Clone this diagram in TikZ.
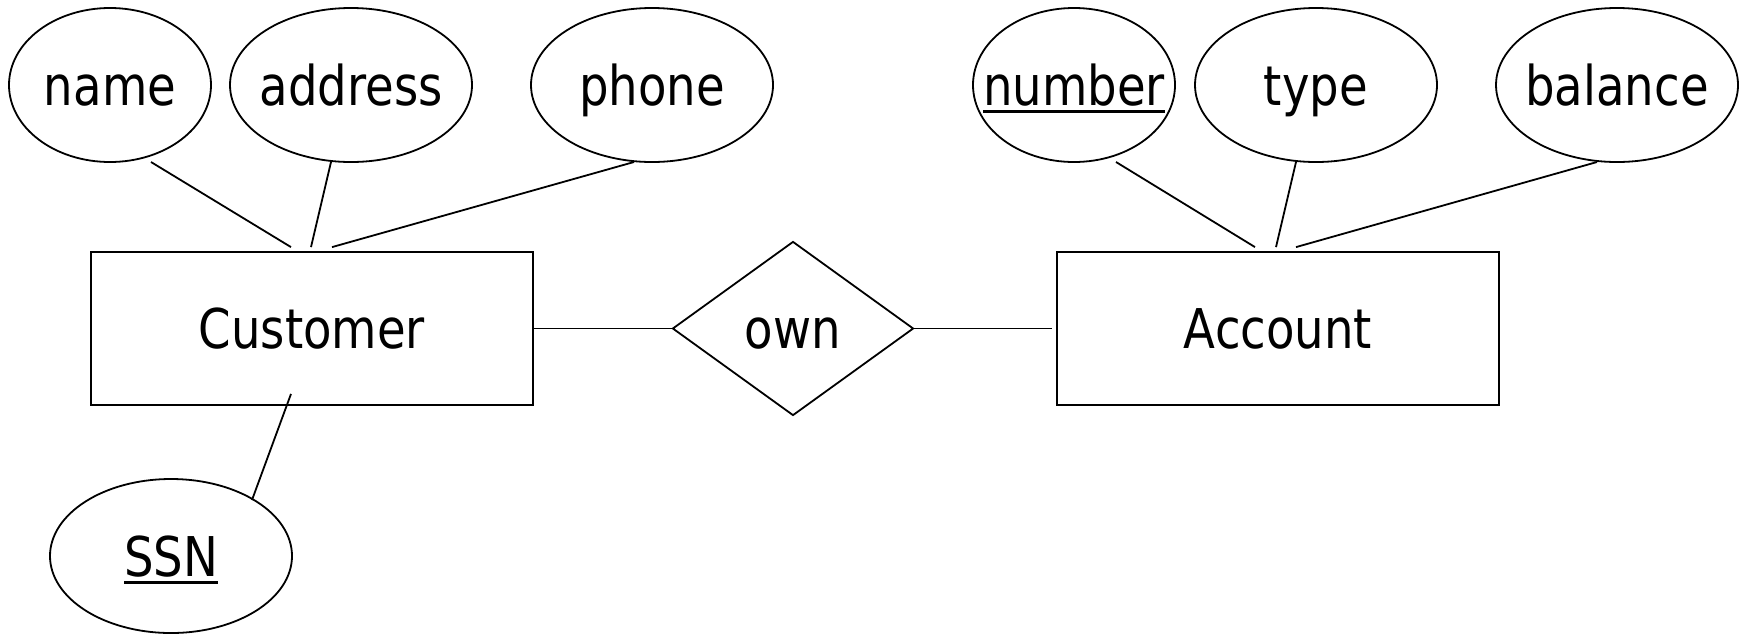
\documentclass[tikz,border=0pt]{standalone}
\usepackage{fontspec}
\setmainfont[FakeStretch=0.85]{DejaVu Sans}
\usetikzlibrary{shapes.geometric}
\newcommand\keyattr[1]{\setbox0\hbox{#1}\rlap{\rule[-4pt]{\wd0}{1.6pt}}\box0}
\newcommand\zb[1]{\makebox[0pt]{#1}}
\tikzset{
  base/.style={draw, line width=0.9pt, inner sep=0pt, font=\fontsize{27.4}{32}\selectfont, text height=20pt, text depth=0pt},
  attr/.style={base, ellipse, minimum width=121pt, minimum height=77pt},
  sattr/.style={base, ellipse, minimum width=101pt, minimum height=77pt},
  entity/.style={base, rectangle, minimum width=221pt, minimum height=76.5pt},
  rel/.style={base, diamond, minimum width=120.5pt, minimum height=87pt},
  conn/.style={line width=0.9pt}
}
\begin{document}
\begin{tikzpicture}[x=0.5pt,y=-0.5pt]
\useasboundingbox (0,0) rectangle (1744,633);
\node[sattr] (name) at (110,85) {\zb{name}};
\node[attr] (address) at (351,85) {\zb{address}};
\node[attr] (phone) at (652,85) {\zb{phone}};
\node[sattr] (number) at (1074,85) {\zb{\keyattr{number}}};
\node[attr] (type) at (1316,85) {\zb{type}};
\node[attr] (balance) at (1617,85) {\zb{balance}};
\node[entity] (cust) at (312,328.5) {\zb{Customer}};
\node[entity] (acct) at (1278,328.5) {\zb{Account}};
\node[rel] (own) at (793,328.5) {\zb{own}};
\node[attr] (ssn) at (171,556) {\zb{\keyattr{SSN}}};
\draw[conn] ([shift={(41,77)}]name.center) -- ([shift={(-21,-4)}]cust.north);
\draw[conn] ([shift={(-20,77)}]address.center) -- ([shift={(-1,-4)}]cust.north);
\draw[conn] ([shift={(-18,77)}]phone.center) -- ([shift={(20,-4)}]cust.north);
\draw[conn] ([shift={(42,77)}]number.center) -- ([shift={(-23,-4)}]acct.north);
\draw[conn] ([shift={(-20,77)}]type.center) -- ([shift={(-2,-4)}]acct.north);
\draw[conn] ([shift={(-20,77)}]balance.center) -- ([shift={(18,-4)}]acct.north);
\draw[conn] ([shift={(-21,-12)}]cust.south) -- ([shift={(81,-56)}]ssn.center);
\draw[conn] (cust.east) -- (own.west);
\draw[conn] (own.east) -- ([xshift=-2]acct.west);
\end{tikzpicture}
\end{document}
